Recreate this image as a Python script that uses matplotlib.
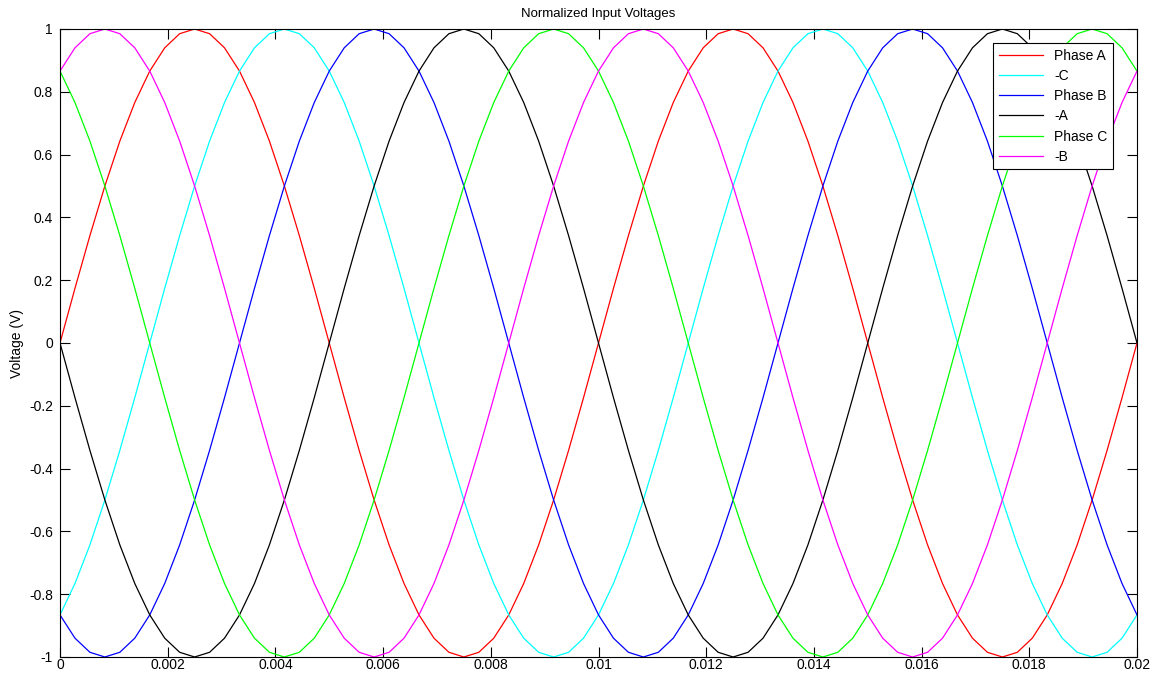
import numpy as np
import matplotlib
matplotlib.use('Agg')
import matplotlib.pyplot as plt

plt.rcParams['font.family'] = ['Liberation Sans', 'DejaVu Sans']

# normalized phase voltages at 73 evenly spaced samples over 0..0.02 s
phase_a = [0.000, 0.174, 0.342, 0.500, 0.643, 0.766, 0.866, 0.940, 0.985, 1.000, 0.985, 0.940,
           0.866, 0.766, 0.643, 0.500, 0.342, 0.174, 0.000, -0.174, -0.342, -0.500, -0.643, -0.766,
           -0.866, -0.940, -0.985, -1.000, -0.985, -0.940, -0.866, -0.766, -0.643, -0.500, -0.342, -0.174,
           0.000, 0.174, 0.342, 0.500, 0.643, 0.766, 0.866, 0.940, 0.985, 1.000, 0.985, 0.940,
           0.866, 0.766, 0.643, 0.500, 0.342, 0.174, 0.000, -0.174, -0.342, -0.500, -0.643, -0.766,
           -0.866, -0.940, -0.985, -1.000, -0.985, -0.940, -0.866, -0.766, -0.643, -0.500, -0.342, -0.174,
           0.000]
minus_c = [-0.866, -0.766, -0.643, -0.500, -0.342, -0.174, 0.000, 0.174, 0.342, 0.500, 0.643, 0.766,
           0.866, 0.940, 0.985, 1.000, 0.985, 0.940, 0.866, 0.766, 0.643, 0.500, 0.342, 0.174,
           0.000, -0.174, -0.342, -0.500, -0.643, -0.766, -0.866, -0.940, -0.985, -1.000, -0.985, -0.940,
           -0.866, -0.766, -0.643, -0.500, -0.342, -0.174, 0.000, 0.174, 0.342, 0.500, 0.643, 0.766,
           0.866, 0.940, 0.985, 1.000, 0.985, 0.940, 0.866, 0.766, 0.643, 0.500, 0.342, 0.174,
           0.000, -0.174, -0.342, -0.500, -0.643, -0.766, -0.866, -0.940, -0.985, -1.000, -0.985, -0.940,
           -0.866]
phase_b = [-0.866, -0.940, -0.985, -1.000, -0.985, -0.940, -0.866, -0.766, -0.643, -0.500, -0.342, -0.174,
           0.000, 0.174, 0.342, 0.500, 0.643, 0.766, 0.866, 0.940, 0.985, 1.000, 0.985, 0.940,
           0.866, 0.766, 0.643, 0.500, 0.342, 0.174, 0.000, -0.174, -0.342, -0.500, -0.643, -0.766,
           -0.866, -0.940, -0.985, -1.000, -0.985, -0.940, -0.866, -0.766, -0.643, -0.500, -0.342, -0.174,
           0.000, 0.174, 0.342, 0.500, 0.643, 0.766, 0.866, 0.940, 0.985, 1.000, 0.985, 0.940,
           0.866, 0.766, 0.643, 0.500, 0.342, 0.174, 0.000, -0.174, -0.342, -0.500, -0.643, -0.766,
           -0.866]
minus_a = [0.000, -0.174, -0.342, -0.500, -0.643, -0.766, -0.866, -0.940, -0.985, -1.000, -0.985, -0.940,
           -0.866, -0.766, -0.643, -0.500, -0.342, -0.174, 0.000, 0.174, 0.342, 0.500, 0.643, 0.766,
           0.866, 0.940, 0.985, 1.000, 0.985, 0.940, 0.866, 0.766, 0.643, 0.500, 0.342, 0.174,
           0.000, -0.174, -0.342, -0.500, -0.643, -0.766, -0.866, -0.940, -0.985, -1.000, -0.985, -0.940,
           -0.866, -0.766, -0.643, -0.500, -0.342, -0.174, 0.000, 0.174, 0.342, 0.500, 0.643, 0.766,
           0.866, 0.940, 0.985, 1.000, 0.985, 0.940, 0.866, 0.766, 0.643, 0.500, 0.342, 0.174,
           0.000]
phase_c = [0.866, 0.766, 0.643, 0.500, 0.342, 0.174, 0.000, -0.174, -0.342, -0.500, -0.643, -0.766,
           -0.866, -0.940, -0.985, -1.000, -0.985, -0.940, -0.866, -0.766, -0.643, -0.500, -0.342, -0.174,
           0.000, 0.174, 0.342, 0.500, 0.643, 0.766, 0.866, 0.940, 0.985, 1.000, 0.985, 0.940,
           0.866, 0.766, 0.643, 0.500, 0.342, 0.174, 0.000, -0.174, -0.342, -0.500, -0.643, -0.766,
           -0.866, -0.940, -0.985, -1.000, -0.985, -0.940, -0.866, -0.766, -0.643, -0.500, -0.342, -0.174,
           0.000, 0.174, 0.342, 0.500, 0.643, 0.766, 0.866, 0.940, 0.985, 1.000, 0.985, 0.940,
           0.866]
minus_b = [0.866, 0.940, 0.985, 1.000, 0.985, 0.940, 0.866, 0.766, 0.643, 0.500, 0.342, 0.174,
           0.000, -0.174, -0.342, -0.500, -0.643, -0.766, -0.866, -0.940, -0.985, -1.000, -0.985, -0.940,
           -0.866, -0.766, -0.643, -0.500, -0.342, -0.174, 0.000, 0.174, 0.342, 0.500, 0.643, 0.766,
           0.866, 0.940, 0.985, 1.000, 0.985, 0.940, 0.866, 0.766, 0.643, 0.500, 0.342, 0.174,
           0.000, -0.174, -0.342, -0.500, -0.643, -0.766, -0.866, -0.940, -0.985, -1.000, -0.985, -0.940,
           -0.866, -0.766, -0.643, -0.500, -0.342, -0.174, 0.000, 0.174, 0.342, 0.500, 0.643, 0.766,
           0.866]

t = np.linspace(0, 0.02, len(phase_a))

series = [phase_a, minus_c, phase_b, minus_a, phase_c, minus_b]
labels = ['Phase A', '-C', 'Phase B', '-A', 'Phase C', '-B']
colors = ['#ff0000', '#00ffff', '#0000ff', '#000000', '#00ff00', '#ff00ff']

xticks = [0, 0.002, 0.004, 0.006, 0.008, 0.01, 0.012, 0.014, 0.016, 0.018, 0.02]
xtick_labels = ['0', '0.002', '0.004', '0.006', '0.008', '0.01', '0.012', '0.014', '0.016', '0.018', '0.02']
yticks = [-1, -0.8, -0.6, -0.4, -0.2, 0, 0.2, 0.4, 0.6, 0.8, 1]
ytick_labels = ['-1', '-0.8', '-0.6', '-0.4', '-0.2', '0', '0.2', '0.4', '0.6', '0.8', '1']

fig = plt.figure(figsize=(11.57, 6.77), dpi=100)
ax = fig.add_axes([60/1157, 1 - 657/677, 1077/1157, 628/677])

for y, lab, col in zip(series, labels, colors):
    ax.plot(t, y, color=col, linewidth=0.9, label=lab)

ax.set_xlim(0, 0.02)
ax.set_ylim(-1, 1)
ax.set_xticks(xticks)
ax.set_xticklabels(xtick_labels)
ax.set_yticks(yticks)
ax.set_yticklabels(ytick_labels)
ax.tick_params(direction='in', length=7, width=0.8, top=True, right=True, labelsize=10)
ax.tick_params(axis='x', pad=1)
ax.tick_params(axis='y', pad=5)
for s in ax.spines.values():
    s.set_linewidth(0.8)

ax.set_title('Normalized Input Voltages', fontsize=9.5, pad=9)
ax.set_ylabel('Voltage (V)', fontsize=10, labelpad=4)

leg = ax.legend(loc='upper right', bbox_to_anchor=(1 - 24/1077, 1 - 14/628), borderaxespad=0,
                fontsize=10, handlelength=3.2, labelspacing=0.45, fancybox=False,
                edgecolor='black', framealpha=1)
leg.get_frame().set_linewidth(0.8)

fig.savefig('out.png', dpi=100)
